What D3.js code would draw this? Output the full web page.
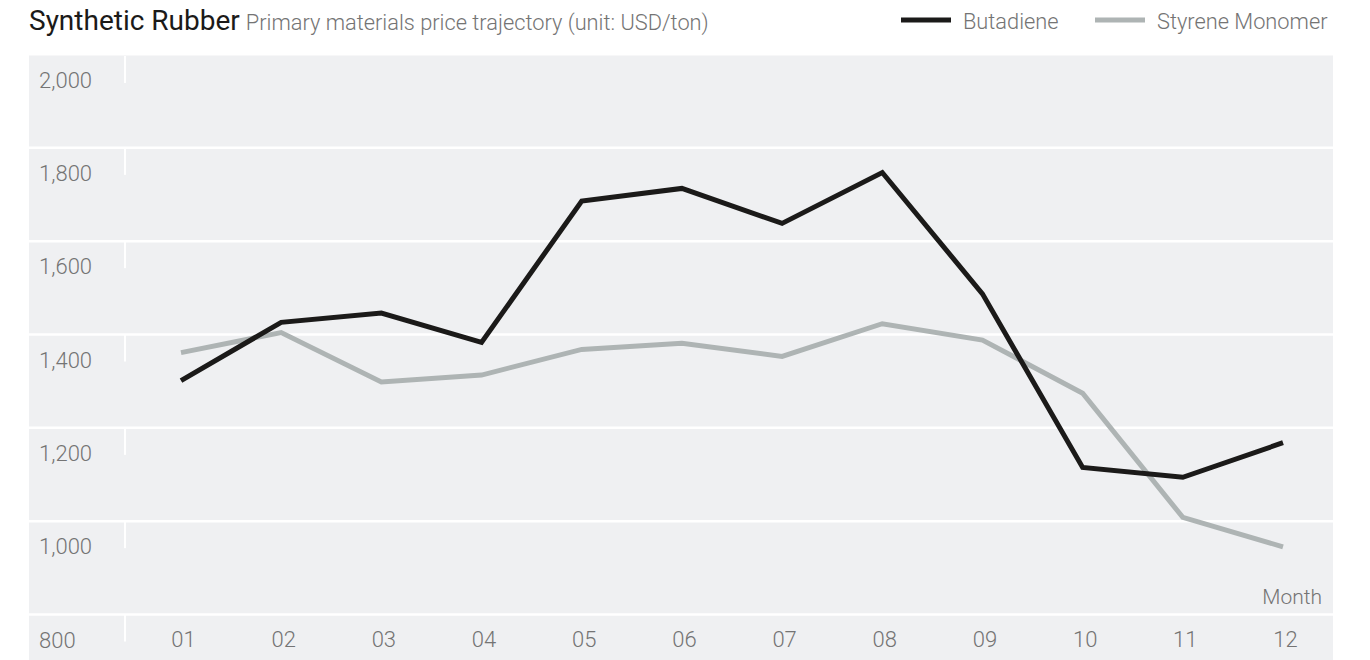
<!DOCTYPE html>
<html>
<head>
<meta charset="utf-8">
<script src="https://cdn.jsdelivr.net/npm/d3@7"></script>
<style>
  body { margin: 0; background: #fff; }
  text { font-family: Roboto, "Noto Sans", sans-serif; }
</style>
</head>
<body>
<div id="chart"></div>
<script>
// data (USD/ton)
var months = ["01", "02", "03", "04", "05", "06", "07", "08", "09", "10", "11", "12"];
var butadiene = [1300, 1425, 1445, 1382, 1685, 1712, 1637, 1746, 1486, 1114, 1093, 1167];
var styrene = [1360, 1403, 1297, 1312, 1367, 1380, 1352, 1422, 1387, 1273, 1007, 944];
var yTicks = [800, 1000, 1200, 1400, 1600, 1800, 2000];
var seriesNames = ["Butadiene", "Styrene Monomer"];
var seriesColors = ["#1b1a19", "#aeb4b4"];

var svg = d3.select("#chart")
    .append("svg")
    .attr("width", 1370)
    .attr("height", 660);

var left = 29, right = 1333;

var x = d3.scalePoint()
    .domain(months)
    .range([181, 1283]);

var y = d3.scaleLinear()
    .domain([800, 2000])
    .range([614, 54]);

// grey plot background
svg.append("rect")
    .attr("x", left)
    .attr("y", y(2000) + 1.5)
    .attr("width", right - left)
    .attr("height", 660 - y(2000) - 1.5)
    .attr("fill", "#eff0f2");

// y axis: white grid lines, labels sit under each line
var yAxis = svg.append("g")
    .attr("transform", "translate(" + left + ",0)")
    .call(d3.axisRight(y).tickValues(yTicks).tickSize(right - left).tickFormat(d3.format(",")));

yAxis.select(".domain").remove();
yAxis.selectAll(".tick line")
    .attr("stroke", "#fff")
    .attr("stroke-width", 2.5)
    .attr("opacity", function(d) { return d === 2000 ? 0 : 1; });
yAxis.selectAll(".tick")
    .append("rect")
    .attr("x", 95)
    .attr("y", function(d) { return d === 2000 ? 1.5 : 0; })
    .attr("width", 2)
    .attr("height", 27)
    .attr("fill", "#fff");
yAxis.selectAll(".tick text")
    .attr("x", 10)
    .attr("y", 33)
    .attr("dy", 0)
    .attr("text-anchor", "start")
    .attr("fill", "#747474")
    .attr("font-size", 22)
    .attr("font-weight", 300);

// x axis
var xAxis = svg.append("g")
    .attr("transform", "translate(0," + y(800) + ")")
    .call(d3.axisBottom(x).tickSize(0));

xAxis.select(".domain").remove();
xAxis.selectAll(".tick text")
    .attr("x", 2)
    .attr("y", 33)
    .attr("dy", 0)
    .attr("fill", "#747474")
    .attr("font-size", 22)
    .attr("font-weight", 300);

svg.append("text")
    .attr("x", 1322)
    .attr("y", 604)
    .attr("text-anchor", "end")
    .attr("fill", "#747474")
    .attr("font-size", 21)
    .attr("font-weight", 300)
    .text("Month");

// lines
var line = d3.line()
    .x(function(d, i) { return x(months[i]); })
    .y(function(d) { return y(d); });

[styrene, butadiene].forEach(function(values, k) {
    svg.append("path")
        .datum(values)
        .attr("fill", "none")
        .attr("stroke", seriesColors[1 - k])
        .attr("stroke-width", 5)
        .attr("stroke-linejoin", "miter")
        .attr("d", line);
});

// title
var title = svg.append("text")
    .attr("x", 29)
    .attr("y", 30);
title.append("tspan")
    .attr("fill", "#1b1a19")
    .attr("font-size", 28)
    .attr("font-weight", 400)
    .text("Synthetic Rubber");
title.append("tspan")
    .attr("dx", 6)
    .attr("fill", "#747474")
    .attr("font-size", 21.8)
    .attr("font-weight", 300)
    .text("Primary materials price trajectory (unit: USD/ton)");

// legend
var legendX = [901, 1095];
var legend = svg.append("g")
    .selectAll("g")
    .data(seriesNames)
    .enter().append("g")
    .attr("transform", function(d, i) { return "translate(" + legendX[i] + ",20)"; });

legend.append("rect")
    .attr("x", 0)
    .attr("y", -2.5)
    .attr("width", 50)
    .attr("height", 5)
    .attr("fill", function(d, i) { return seriesColors[i]; });

legend.append("text")
    .attr("x", 62)
    .attr("y", 9)
    .attr("fill", "#747474")
    .attr("font-size", 21.8)
    .attr("font-weight", 300)
    .text(function(d) { return d; });
</script>
</body>
</html>
